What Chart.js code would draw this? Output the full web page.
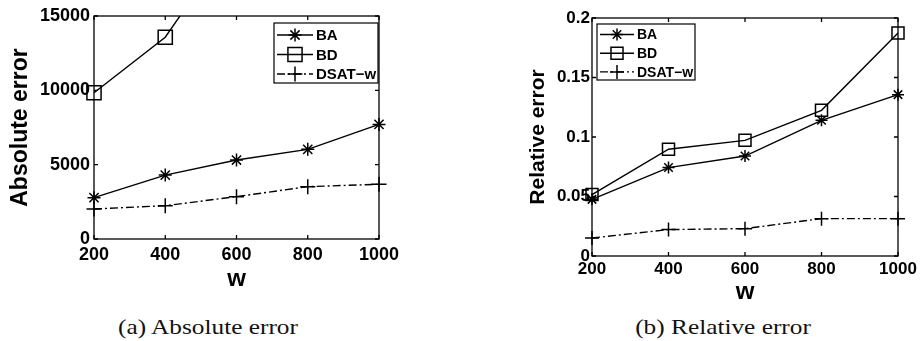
<!DOCTYPE html>
<html>
<head>
<meta charset="utf-8">
<script src="https://cdn.jsdelivr.net/npm/chart.js@4.4.1/dist/chart.umd.min.js"></script>
<style>
  html, body { margin: 0; padding: 0; background: #fff; }
  body { width: 920px; height: 341px; position: relative; overflow: hidden; }
  .panel { position: absolute; top: 0; }
  .caption {
    position: absolute; font-family: "Liberation Serif", serif; font-size: 22px;
    color: #111; white-space: nowrap; transform: translate(-50%, -50%) scaleX(1.15);
  }
</style>
</head>
<body>
<div class="panel" style="left:0;width:460px;height:300px"><canvas id="absChart"></canvas></div>
<div class="panel" style="left:460px;width:460px;height:310px"><canvas id="relChart"></canvas></div>
<div class="caption" style="left:208px;top:327px">(a) Absolute error</div>
<div class="caption" style="left:723px;top:327px">(b) Relative error</div>

<script>
const W_LABELS = ['200', '400', '600', '800', '1000'];
const SERIES_NAMES = ['BA', 'BD', 'DSAT\u2212w'];

// absolute error
const absBA = [2780, 4300, 5310, 6030, 7710];
const absBD = [9840, 13570, 20500, 27000, 35000]; // beyond 600 it runs off the top
const absDSAT = [2020, 2240, 2850, 3520, 3680];

// relative error
const relBA = [0.0476, 0.0743, 0.0840, 0.1140, 0.1356];
const relBD = [0.0516, 0.0897, 0.0972, 0.1224, 0.1874];
const relDSAT = [0.0151, 0.0222, 0.0230, 0.0314, 0.0314];

const absTicks = [0, 5000, 10000, 15000];
const relTicks = [0, 0.05, 0.1, 0.15, 0.2];

const FONT = "'Liberation Sans', Arial, sans-serif";

// matlab style box with inward ticks
const framePlugin = {
    id: 'frame',
    afterDraw(chart) {
        const { ctx, chartArea: a, scales } = chart;
        const len = 4;
        ctx.save();
        ctx.strokeStyle = '#000';
        ctx.lineWidth = 1.3;
        ctx.strokeRect(a.left, a.top, a.right - a.left, a.bottom - a.top);
        ctx.beginPath();
        scales.x.ticks.forEach((t, i) => {
            const px = scales.x.getPixelForTick(i);
            ctx.moveTo(px, a.bottom); ctx.lineTo(px, a.bottom - len);
            ctx.moveTo(px, a.top); ctx.lineTo(px, a.top + len);
        });
        scales.y.ticks.forEach(t => {
            const py = scales.y.getPixelForValue(t.value);
            ctx.moveTo(a.left, py); ctx.lineTo(a.left + len, py);
            ctx.moveTo(a.right, py); ctx.lineTo(a.right - len, py);
        });
        ctx.stroke();
        ctx.restore();
    }
};

// legend box drawn inside the plot
const boxLegendPlugin = {
    id: 'boxLegend',
    afterDraw(chart, args, opts) {
        const { ctx } = chart;
        const b = opts.box;
        ctx.save();
        ctx.fillStyle = '#fff';
        ctx.fillRect(b.x, b.y, b.w, b.h);
        ctx.strokeStyle = '#000';
        ctx.lineWidth = 1.2;
        ctx.strokeRect(b.x, b.y, b.w, b.h);
        ctx.font = 'bold ' + opts.fontSize + 'px ' + FONT;
        ctx.textBaseline = 'middle';
        chart.data.datasets.forEach((ds, i) => {
            const y = b.y + opts.firstRow + i * opts.rowGap;
            const x0 = b.x + 3, x1 = b.x + 3 + opts.sample;
            ctx.strokeStyle = '#000';
            ctx.lineWidth = ds.borderWidth;
            ctx.setLineDash(ds.borderDash || []);
            ctx.beginPath();
            ctx.moveTo(x0, y); ctx.lineTo(x1, y);
            ctx.stroke();
            ctx.setLineDash([]);
            ctx.fillStyle = 'rgba(0,0,0,0)';
            ctx.lineWidth = ds.pointBorderWidth;
            Chart.helpers.drawPoint(ctx, {
                pointStyle: ds.pointStyle, radius: ds.pointRadius, rotation: 0,
                borderWidth: ds.pointBorderWidth
            }, (x0 + x1) / 2, y);
            ctx.fillStyle = '#000';
            ctx.fillText(ds.label, x1 + 3, y + 1);
        });
        ctx.restore();
    }
};

function makeDatasets(values, sizes) {
    const styles = ['star', 'rect', 'cross'];
    const dashes = [[], [], [8, 3, 2, 3]];
    return values.map((v, i) => ({
        label: SERIES_NAMES[i],
        data: v,
        borderColor: '#000',
        borderWidth: 1.4,
        borderDash: dashes[i],
        pointStyle: styles[i],
        pointRadius: sizes[i],
        pointBorderWidth: 1.5,
        pointBorderColor: '#000',
        pointBackgroundColor: 'rgba(0,0,0,0)',
        tension: 0,
        clip: { left: 20, right: 20, top: 0, bottom: 20 }
    }));
}

function makeChart(id, cfg) {
    const ctx = document.getElementById(id).getContext('2d');
    return new Chart(ctx, {
        type: 'line',
        data: { labels: W_LABELS, datasets: cfg.datasets },
        options: {
            responsive: true,
            maintainAspectRatio: false,
            animation: false,
            layout: { padding: cfg.padding },
            plugins: {
                legend: { display: false },
                tooltip: { enabled: false },
                boxLegend: cfg.legend
            },
            scales: {
                x: {
                    grid: { display: false, drawTicks: false },
                    border: { display: false },
                    ticks: {
                        color: '#000', padding: cfg.xTickPad, maxRotation: 0, autoSkip: false,
                        font: { family: FONT, weight: 'bold', size: cfg.tickSize, lineHeight: 1.2 }
                    },
                    title: {
                        display: true, text: 'w', color: '#000',
                        font: { family: FONT, weight: 'bold', size: 24, lineHeight: 1.2 },
                        padding: { top: 0, bottom: cfg.xTitlePad }
                    },
                    afterFit: s => { s.height = cfg.xHeight; }
                },
                y: {
                    min: cfg.yTicks[0],
                    max: cfg.yTicks[cfg.yTicks.length - 1],
                    afterBuildTicks: s => { s.ticks = cfg.yTicks.map(v => ({ value: v })); },
                    grid: { display: false, drawTicks: false },
                    border: { display: false },
                    ticks: {
                        color: '#000', padding: cfg.yTickPad,
                        font: { family: FONT, weight: 'bold', size: cfg.tickSize, lineHeight: 1.2 },
                        callback: v => String(Number(v.toFixed(4)))
                    },
                    title: {
                        display: true, text: cfg.yTitle, color: '#000',
                        font: { family: FONT, weight: 'bold', size: cfg.yTitleSize, lineHeight: 1.2 },
                        padding: { top: cfg.yTitlePad, bottom: 0 }
                    },
                    afterFit: s => { s.width = cfg.yWidth; }
                }
            }
        },
        plugins: [framePlugin, boxLegendPlugin]
    });
}

makeChart('absChart', {
    datasets: makeDatasets([absBA, absBD, absDSAT], [6.5, 10, 7.5]),
    padding: { left: 0, top: 16, right: 81, bottom: 0 },
    yWidth: 94, xHeight: 61,
    yTicks: absTicks,
    tickSize: 18, xTickPad: 5, yTickPad: 4,
    xTitlePad: 6.6,
    yTitle: 'Absolute error', yTitleSize: 23, yTitlePad: 7.2,
    legend: { box: { x: 274, y: 23, w: 104, h: 60 }, fontSize: 15, firstRow: 12, rowGap: 19.5, sample: 36 }
});

makeChart('relChart', {
    datasets: makeDatasets([relBA, relBD, relDSAT], [6, 8.5, 7]),
    padding: { left: 0, top: 18, right: 22, bottom: 0 },
    yWidth: 132, xHeight: 54,
    yTicks: relTicks,
    tickSize: 17, xTickPad: 3, yTickPad: 2,
    xTitlePad: 3.6,
    yTitle: 'Relative error', yTitleSize: 21, yTitlePad: 65.4,
    legend: { box: { x: 137, y: 24, w: 98, h: 56 }, fontSize: 14, firstRow: 10.5, rowGap: 18.7, sample: 34 }
});
</script>
</body>
</html>
